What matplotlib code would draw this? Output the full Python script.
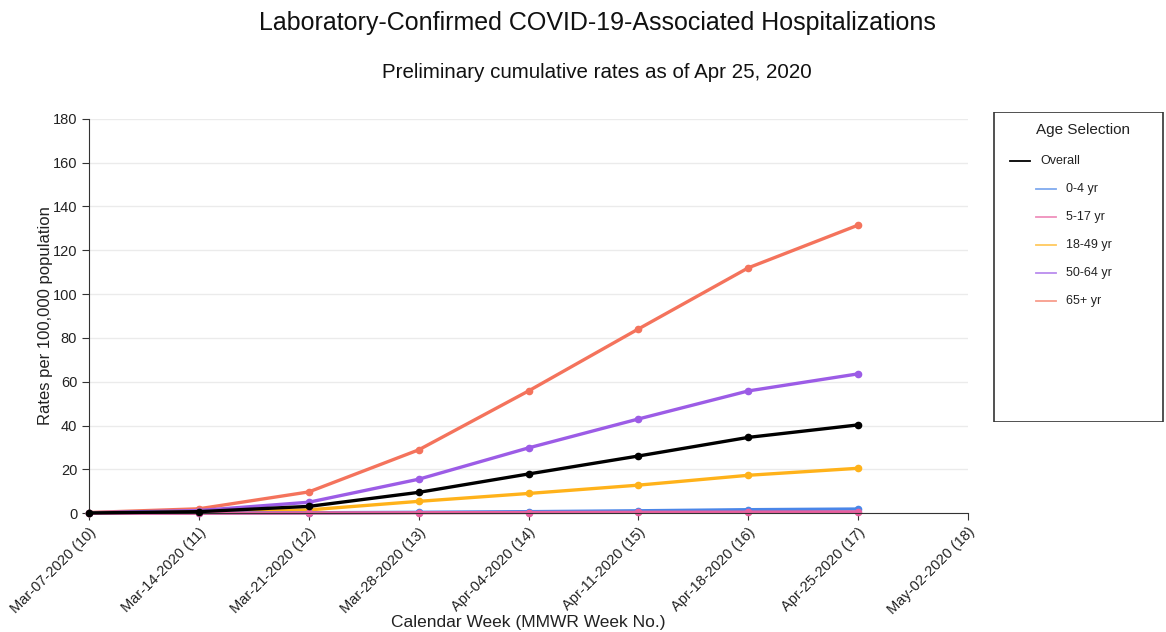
import matplotlib
matplotlib.use("Agg")
import matplotlib.pyplot as plt
from matplotlib.patches import Rectangle
from matplotlib.lines import Line2D

plt.rcParams['font.family'] = ['Liberation Sans', 'DejaVu Sans']

# 周标签（MMWR week）
weeks = ["Mar-07-2020 (10)", "Mar-14-2020 (11)", "Mar-21-2020 (12)", "Mar-28-2020 (13)",
         "Apr-04-2020 (14)", "Apr-11-2020 (15)", "Apr-18-2020 (16)", "Apr-25-2020 (17)",
         "May-02-2020 (18)"]

# 各年龄组累计住院率（每10万人）
overall = [0.1, 0.7, 3.1, 9.5, 17.9, 26.1, 34.6, 40.3]
age_0_4 = [0.0, 0.1, 0.2, 0.4, 0.7, 1.1, 1.6, 1.9]
age_5_17 = [0.0, 0.0, 0.1, 0.2, 0.3, 0.4, 0.5, 0.6]
age_18_49 = [0.1, 0.4, 1.5, 5.4, 9.0, 12.8, 17.3, 20.5]
age_50_64 = [0.2, 1.2, 5.0, 15.5, 29.8, 43.0, 55.8, 63.6]
age_65 = [0.3, 2.0, 9.7, 28.9, 55.8, 84.1, 112.0, 131.5]

labels = ["Overall", "0-4 yr", "5-17 yr", "18-49 yr", "50-64 yr", "65+ yr"]
colors = ["#000000", "#4a86e8", "#e8609f", "#ffb21a", "#9c5ce6", "#f4735c"]
series = [overall, age_0_4, age_5_17, age_18_49, age_50_64, age_65]

fig = plt.figure(figsize=(11.66, 6.32), dpi=100)
ax = fig.add_axes([0.0763, 0.188, 0.754, 0.624])

# 绘制顺序：先画大的，Overall 放最上面
for i in [5, 4, 3, 1, 2, 0]:
    x = list(range(len(series[i])))
    ax.plot(x, series[i], color=colors[i], lw=2.4, marker='o', ms=4.5,
            zorder=3 if i == 0 else 2, clip_on=False)

ax.set_xlim(0, len(weeks) - 1)
ax.set_ylim(0, 180)
ax.set_yticks(range(0, 181, 20))
ax.set_xticks(range(len(weeks)))
ax.set_xticklabels(weeks, rotation=45, ha='right', rotation_mode='anchor', fontsize=10.5)
ax.tick_params(axis='y', labelsize=10.5, length=5, color='#333333', labelcolor='#222222')
ax.tick_params(axis='x', length=5, color='#333333', labelcolor='#222222')
ax.grid(axis='y', color='#ebebeb', lw=1)
ax.set_axisbelow(True)
for s in ['top', 'right']:
    ax.spines[s].set_visible(False)
for s in ['left', 'bottom']:
    ax.spines[s].set_color('#333333')
ax.set_ylabel("Rates per 100,000 population", fontsize=12, labelpad=0, color='#222222')
ax.set_xlabel("Calendar Week (MMWR Week No.)", fontsize=12.5, labelpad=-2, color='#222222')

fig.text(0.512, 0.963, "Laboratory-Confirmed COVID-19-Associated Hospitalizations",
         ha='center', va='center', fontsize=18, color='#111111')
fig.text(0.512, 0.886, "Preliminary cumulative rates as of Apr 25, 2020",
         ha='center', va='center', fontsize=14.8, color='#111111')

# 图例框
lax = fig.add_axes([0.852, 0.332, 0.146, 0.491])
lax.set_xlim(0, 171)
lax.set_ylim(310, 0)
lax.axis('off')
lax.add_patch(Rectangle((0.5, 0.5), 170, 309, fill=False, ec='#333333', lw=1.2))
lax.text(90, 18, "Age Selection", ha='center', va='center', fontsize=11, color='#222222')
for k, lab in enumerate(labels):
    yy = 49 + 28 * k
    x0 = 17 if k == 0 else 43
    alpha = 1 if k == 0 else 0.7
    lax.add_line(Line2D([x0, x0 + 20], [yy, yy], color=colors[k], lw=1.3, alpha=alpha))
    lax.text(x0 + 30, yy, lab, va='center', fontsize=9, color='#222222')

fig.savefig("out.png", dpi=100)
